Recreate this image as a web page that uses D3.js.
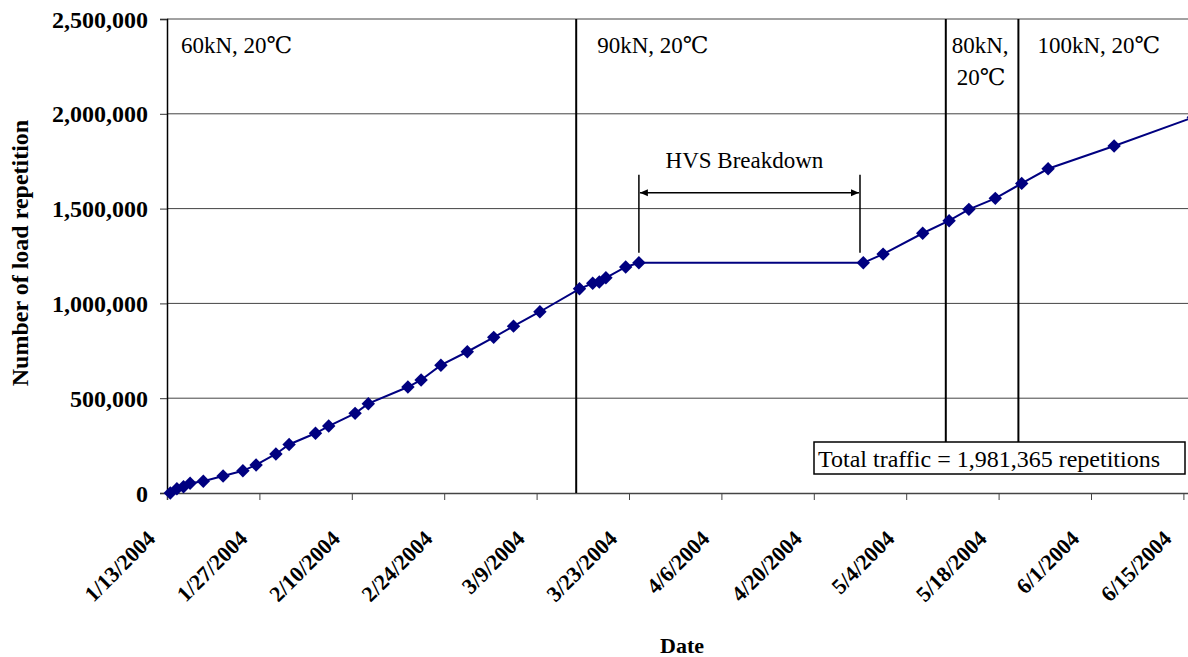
<!DOCTYPE html>
<html>
<head>
<meta charset="utf-8">
<script src="https://cdn.jsdelivr.net/npm/d3@7"></script>
<style>
  body { margin: 0; background: #fff; }
  text { font-family: "Liberation Serif", "Times New Roman", "DejaVu Serif", serif; }
</style>
</head>
<body>
<div id="chart"></div>
<script>
// Load repetition counts
var dates = ["1/13/2004", "1/14/2004", "1/15/2004", "1/16/2004", "1/18/2004", "1/21/2004",
  "1/24/2004", "1/26/2004", "1/29/2004", "1/31/2004", "2/4/2004", "2/6/2004", "2/10/2004",
  "2/12/2004", "2/18/2004", "2/20/2004", "2/23/2004", "2/27/2004", "3/2/2004", "3/5/2004",
  "3/9/2004", "3/15/2004", "3/17/2004", "3/18/2004", "3/19/2004", "3/22/2004", "3/24/2004",
  "4/27/2004", "4/30/2004", "5/6/2004", "5/10/2004", "5/13/2004", "5/17/2004", "5/21/2004",
  "5/25/2004", "6/4/2004", "6/16/2004"];
var reps = [0, 22000, 33000, 51000, 62000, 90000,
  117000, 148000, 206000, 256000, 315000, 353000, 420000,
  471000, 559000, 596000, 674000, 745000, 821000, 880000,
  956000, 1077000, 1106000, 1113000, 1135000, 1192000, 1214000,
  1214000, 1260000, 1370000, 1436000, 1496000, 1554000, 1633000,
  1710000, 1830000, 1981365];

var tickLabels = ["1/13/2004", "1/27/2004", "2/10/2004", "2/24/2004", "3/9/2004", "3/23/2004",
  "4/6/2004", "4/20/2004", "5/4/2004", "5/18/2004", "6/1/2004", "6/15/2004"];
var yTicks = [0, 500000, 1000000, 1500000, 2000000, 2500000];

// load phases: change dates and labels
var phaseDates = ["3/15/2004", "5/10/2004", "5/21/2004"];
var breakdown = ["3/24/2004", "4/27/2004"];

var w = 1188;
var h = 657;
var parse = d3.utcParse("%m/%d/%Y");
var halfDay = 0.5 * 86400000;

var data = dates.map(function(d, i){ return {date: parse(d), value: reps[i]}; });

var svg = d3.select("#chart")
  .append("svg")
  .attr("width", w)
  .attr("height", h)
  .style("display", "block");

var x = d3.scaleUtc()
  .domain([parse("1/13/2004"), parse("6/17/2004")])
  .range([167, 1196.6]);

var y = d3.scaleLinear()
  .domain([0, 2500000])
  .range([493, 19]);

// points sit in the middle of their day
function xp(d){ return x(new Date(d.getTime() + halfDay)); }

// grid lines
svg.append("g")
  .selectAll("line")
  .data(yTicks.slice(1))
  .enter()
  .append("line")
  .attr("x1", 167)
  .attr("x2", w)
  .attr("y1", function(d){ return y(d); })
  .attr("y2", function(d){ return y(d); })
  .style("stroke", "#444")
  .style("stroke-width", 1);

// Y axis
var yAxis = svg.append("g")
  .attr("transform", "translate(167,0)")
  .call(d3.axisLeft(y).tickValues(yTicks).tickSize(7).tickPadding(12)
    .tickFormat(d3.format(",")));
yAxis.select(".domain").style("stroke", "#000").style("stroke-width", 1.5);
yAxis.selectAll(".tick line").style("stroke", "#333");
yAxis.selectAll("text")
  .style("font-family", "'Liberation Serif', serif")
  .style("font-size", "24px")
  .style("font-weight", "bold")
  .attr("dy", "0.34em");

// X axis
var xAxis = svg.append("g")
  .attr("transform", "translate(0,493)")
  .call(d3.axisBottom(x).tickValues(tickLabels.map(parse)).tickSize(7)
    .tickFormat(function(d){ return d3.utcFormat("%-m/%-d/%Y")(d); }));
xAxis.select(".domain").style("stroke", "#444").style("stroke-width", 1.5);
xAxis.selectAll(".tick line").style("stroke", "#444");
xAxis.selectAll("text")
  .style("font-family", "'Liberation Serif', serif")
  .style("font-size", "22px")
  .style("font-weight", "bold")
  .attr("text-anchor", "end")
  .attr("dy", null)
  .attr("y", 0)
  .attr("transform", "translate(-11,47) rotate(-45)");

// phase lines
svg.append("g")
  .selectAll("line")
  .data(phaseDates)
  .enter()
  .append("line")
  .attr("x1", function(d){ return x(parse(d)); })
  .attr("x2", function(d){ return x(parse(d)); })
  .attr("y1", y(2500000))
  .attr("y2", function(d, i){ return i == 0 ? y(0) : 442; })
  .style("stroke", "#000")
  .style("stroke-width", 2);

// data line
var line = d3.line()
  .x(function(d){ return xp(d.date); })
  .y(function(d){ return y(d.value); });

svg.append("path")
  .datum(data)
  .attr("d", line)
  .style("fill", "none")
  .style("stroke", "#000080")
  .style("stroke-width", 2);

svg.append("g")
  .selectAll("path")
  .data(data)
  .enter()
  .append("path")
  .attr("d", d3.symbol().type(d3.symbolSquare).size(90))
  .attr("transform", function(d){ return "translate(" + xp(d.date) + "," + y(d.value) + ") rotate(45)"; })
  .style("fill", "#000080");

// HVS breakdown bracket
var flat = y(reps[dates.indexOf(breakdown[0])]);
var bx0 = xp(parse(breakdown[0]));
var bx1 = x(parse(breakdown[1]));
var br = svg.append("g");
br.selectAll("line.bar")
  .data([bx0, bx1])
  .enter()
  .append("line")
  .attr("x1", function(d){ return d; })
  .attr("x2", function(d){ return d; })
  .attr("y1", flat - 88)
  .attr("y2", flat - 10)
  .style("stroke", "#000")
  .style("stroke-width", 1.5);
br.append("line")
  .attr("x1", bx0 + 1).attr("x2", bx1 - 1)
  .attr("y1", flat - 70).attr("y2", flat - 70)
  .style("stroke", "#000").style("stroke-width", 1.5);
br.append("path")
  .attr("d", "M" + (bx0 + 1) + "," + (flat - 70) + "l8,-3.5v7z")
  .style("fill", "#000");
br.append("path")
  .attr("d", "M" + (bx1 - 1) + "," + (flat - 70) + "l-8,-3.5v7z")
  .style("fill", "#000");
br.append("text")
  .attr("x", (bx0 + bx1) / 2 - 5)
  .attr("y", flat - 95)
  .attr("text-anchor", "middle")
  .style("font-size", "23px")
  .text("HVS Breakdown");

// phase labels
var p0 = x(parse(phaseDates[0])), p1 = x(parse(phaseDates[1])), p2 = x(parse(phaseDates[2]));
var labels = [
  {text: "60kN, 20℃", x: x.range()[0] + 14, y: 53, anchor: "start"},
  {text: "90kN, 20℃", x: p0 + 21, y: 53, anchor: "start"},
  {text: "80kN,", x: (p1 + p2) / 2 - 2, y: 53, anchor: "middle"},
  {text: "20℃", x: (p1 + p2) / 2 - 1, y: 85, anchor: "middle"},
  {text: "100kN, 20℃", x: p2 + 19, y: 53, anchor: "start"}
];
svg.append("g")
  .selectAll("text")
  .data(labels)
  .enter()
  .append("text")
  .attr("x", function(d){ return d.x; })
  .attr("y", function(d){ return d.y; })
  .attr("text-anchor", function(d){ return d.anchor; })
  .style("font-size", "23px")
  .text(function(d){ return d.text; });

// total traffic box
svg.append("rect")
  .attr("x", 814).attr("y", 442)
  .attr("width", 371).attr("height", 32)
  .style("fill", "#fff")
  .style("stroke", "#000")
  .style("stroke-width", 1.5);
svg.append("text")
  .attr("x", 818).attr("y", 467)
  .style("font-size", "24px")
  .text("Total traffic = " + d3.format(",")(reps[reps.length - 1]) + " repetitions");

// axis titles
svg.append("text")
  .attr("transform", "translate(28,253) rotate(-90)")
  .attr("text-anchor", "middle")
  .style("font-size", "24px")
  .style("font-weight", "bold")
  .text("Number of load repetition");

svg.append("text")
  .attr("x", 682)
  .attr("y", 653)
  .attr("text-anchor", "middle")
  .style("font-size", "22px")
  .style("font-weight", "bold")
  .text("Date");
</script>
</body>
</html>
